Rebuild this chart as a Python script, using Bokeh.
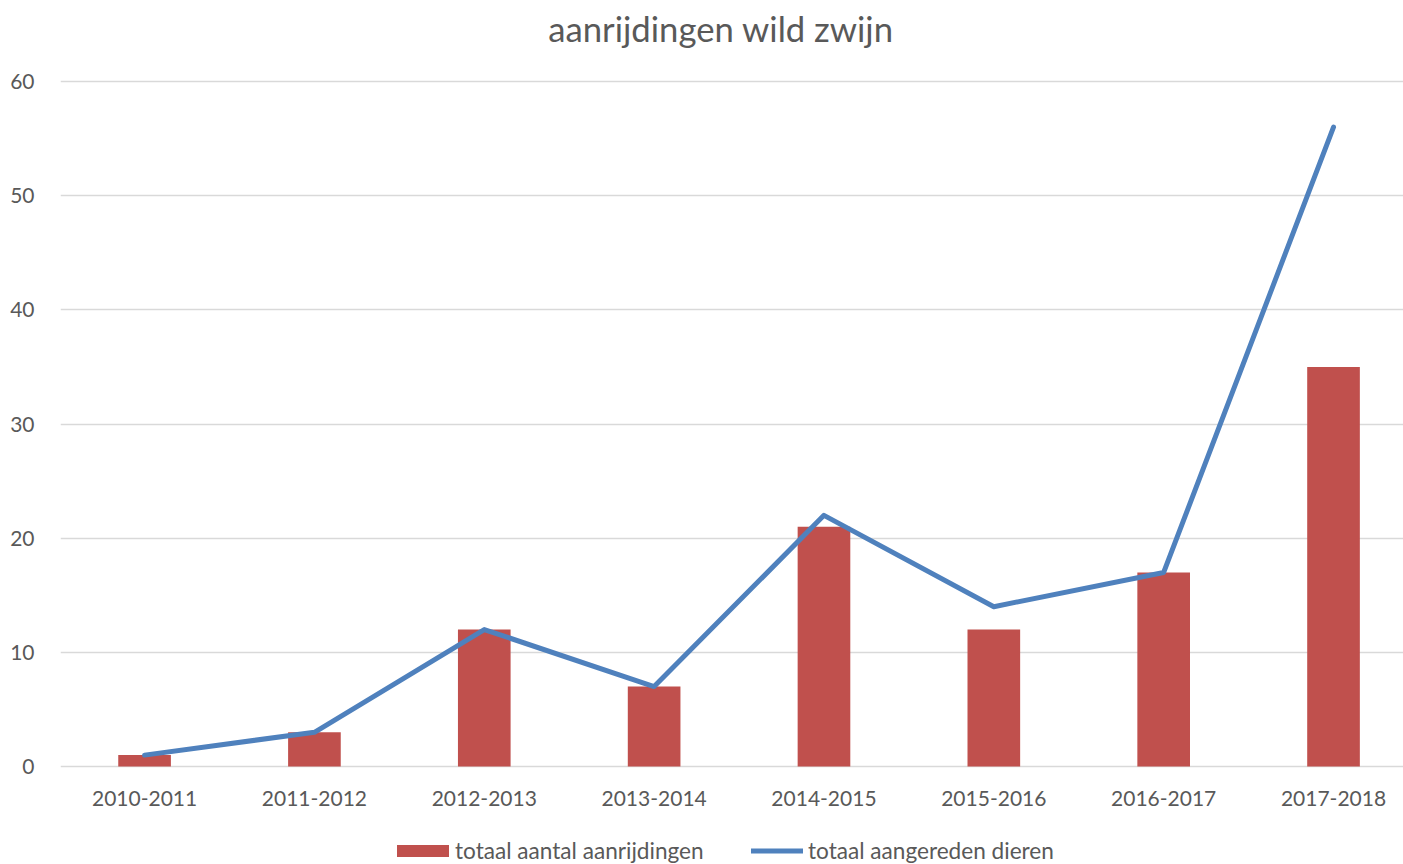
from bokeh.plotting import figure
from bokeh.models import Range1d, FixedTicker, Legend, LegendItem, ColumnDataSource, Label
from bokeh.embed import file_html
from bokeh.resources import INLINE

title_text = "aanrijdingen wild zwijn"
seasons = ["2010-2011", "2011-2012", "2012-2013", "2013-2014",
           "2014-2015", "2015-2016", "2016-2017", "2017-2018"]
aanrijdingen = [1, 3, 12, 7, 21, 12, 17, 35]
dieren = [1, 3, 12, 7, 22, 14, 17, 56]
y_ticks = [0, 10, 20, 30, 40, 50, 60]

FONT = "Lato"
TXT = "#595959"

xs = list(range(len(seasons)))
src = ColumnDataSource(dict(x=xs, bars=aanrijdingen, line=dieren))

p = figure(width=1403, height=864, output_backend="svg", toolbar_location=None,
           x_range=Range1d(-0.495, 7.412), y_range=Range1d(-8.582, 67.095),
           min_border_left=60, min_border_right=0, min_border_top=0, min_border_bottom=0)
p.outline_line_color = None
p.background_fill_color = "white"
p.border_fill_color = "white"

p.add_layout(Label(x=660.5, y=836, x_units="screen", y_units="screen", text=title_text,
                   text_align="center", text_baseline="middle", text_font=FONT,
                   text_font_size="34.7px", text_color=TXT))

p.xgrid.visible = False
p.ygrid.grid_line_color = "#D9D9D9"
p.ygrid.grid_line_width = 1.6
p.yaxis.ticker = FixedTicker(ticks=y_ticks)
p.xaxis.ticker = FixedTicker(ticks=xs)
p.xaxis.major_label_overrides = {i: s for i, s in enumerate(seasons)}
p.xaxis.fixed_location = 0

for ax in (p.xaxis[0], p.yaxis[0]):
    ax.axis_line_color = None
    ax.major_tick_line_color = None
    ax.minor_tick_line_color = None
    ax.major_label_text_font = FONT
    ax.major_label_text_font_size = "21px"
    ax.major_label_text_color = TXT
p.yaxis.major_label_standoff = 20
p.xaxis.major_label_standoff = 18

r_bar = p.vbar(x="x", top="bars", bottom=0, width=0.31, source=src,
               fill_color="#C0504D", line_color=None)
r_line = p.line(x="x", y="line", source=src, line_color="#4F81BD", line_width=5,
                line_join="round", line_cap="round")


def make_legend(item, loc, gw, gh, standoff):
    lg = Legend(items=[item], orientation="horizontal", location=loc)
    lg.border_line_color = None
    lg.background_fill_alpha = 0
    lg.label_text_font = FONT
    lg.label_text_font_size = "22.6px"
    lg.label_text_color = TXT
    lg.glyph_width = gw
    lg.glyph_height = gh
    lg.label_standoff = standoff
    lg.padding = 0
    lg.margin = 0
    return lg


p.add_layout(make_legend(LegendItem(label="totaal aantal aanrijdingen", renderers=[r_bar]),
                         (330, 0), 65, 15, 0))
p.add_layout(make_legend(LegendItem(label="totaal aangereden dieren", renderers=[r_line]),
                         (691, 0), 52, 15, 5))

open("out.html", "w").write(file_html(p, INLINE))
